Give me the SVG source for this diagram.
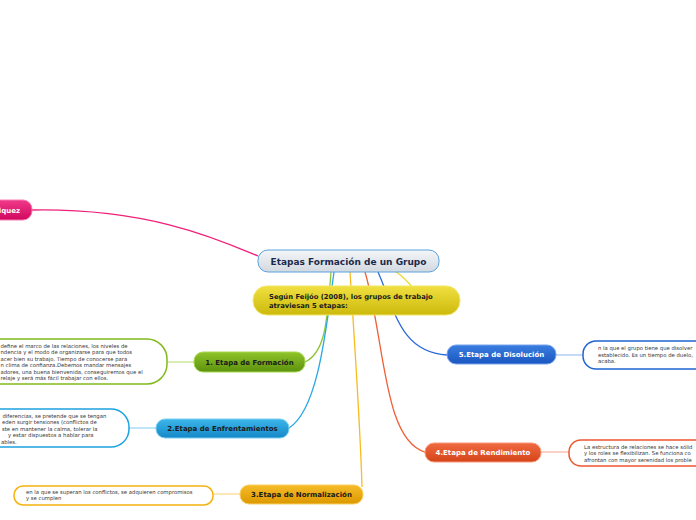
<svg xmlns="http://www.w3.org/2000/svg" width="696" height="520" viewBox="0 0 696 520">
<style>
.lbl{font-family:"DejaVu Sans","Verdana",sans-serif;font-weight:bold;}
.note{font-family:"DejaVu Sans","Verdana",sans-serif;font-size:5.3px;fill:#333;}
.conn{fill:none;stroke-width:1.3;}
.nb{fill:#fff;stroke-width:1.5;}
</style>
<defs>
<linearGradient id="gC" x1="0" y1="0" x2="0" y2="1"><stop offset="0" stop-color="#f4f6f8"/><stop offset="1" stop-color="#d2d9e0"/></linearGradient>
<linearGradient id="gY" x1="0" y1="0" x2="0" y2="1"><stop offset="0" stop-color="#f0e040"/><stop offset="1" stop-color="#cdb90c"/></linearGradient>
<linearGradient id="gP" x1="0" y1="0" x2="0" y2="1"><stop offset="0" stop-color="#f03a8a"/><stop offset="1" stop-color="#d0085e"/></linearGradient>
<linearGradient id="gG" x1="0" y1="0" x2="0" y2="1"><stop offset="0" stop-color="#8fc42a"/><stop offset="1" stop-color="#5c920e"/></linearGradient>
<linearGradient id="gB2" x1="0" y1="0" x2="0" y2="1"><stop offset="0" stop-color="#3cb6ea"/><stop offset="1" stop-color="#1588c8"/></linearGradient>
<linearGradient id="gO" x1="0" y1="0" x2="0" y2="1"><stop offset="0" stop-color="#f6bc2a"/><stop offset="1" stop-color="#dc9800"/></linearGradient>
<linearGradient id="gR" x1="0" y1="0" x2="0" y2="1"><stop offset="0" stop-color="#f06a42"/><stop offset="1" stop-color="#d44418"/></linearGradient>
<linearGradient id="gB5" x1="0" y1="0" x2="0" y2="1"><stop offset="0" stop-color="#3a7ee0"/><stop offset="1" stop-color="#1a56c0"/></linearGradient>
</defs>
<g id="connectors">
<path class="conn" d="M32,210 C150,208 220,240 258,256" stroke="#f0207a"/>
<path class="conn" d="M395,271 Q405,278 412,287" stroke="#e8d82a"/>
<path class="conn" d="M331,272 C327,320 326,352 305,362" stroke="#8cc43a"/>
<path class="conn" d="M334,272 C326,330 318,410 289,428" stroke="#28a8e6"/>
<path class="conn" d="M350,272 C355,350 360,420 362,487" stroke="#f8bc20"/>
<path class="conn" d="M365,272 C385,340 383,440 425,452" stroke="#f06038"/>
<path class="conn" d="M378,272 C395,310 400,352 447,355" stroke="#2a6ad8"/>
<path class="conn" d="M167,362 L194,362" stroke="#c6e48c" stroke-width="2"/>
<path class="conn" d="M129,428 L156,428" stroke="#9cd8f4" stroke-width="2"/>
<path class="conn" d="M213,494 L240,494" stroke="#fbdc90" stroke-width="2"/>
<path class="conn" d="M541,452 L569,452" stroke="#f8b8a4" stroke-width="2"/>
<path class="conn" d="M556,355 L583,355" stroke="#a8c4f0" stroke-width="2"/>
</g>
<g id="central">
<rect x="258" y="250" width="181" height="22" rx="10" fill="url(#gC)" stroke="#5aa2dc" stroke-width="1"/>
<text class="lbl" x="348.5" y="264.5" font-size="9" fill="#1c2a4a" text-anchor="middle">Etapas Formación de un Grupo</text>
</g>
<g id="intro">
<rect x="253" y="286" width="207" height="29" rx="14" fill="url(#gY)" stroke="#f2e666" stroke-width="1"/>
<text class="lbl" font-size="6.8" fill="#1a1a1a"><tspan x="269" y="299">Según Feijóo (2008), los grupos de trabajo</tspan><tspan x="269" y="308">atraviesan 5 etapas:</tspan></text>
</g>
<g id="pink">
<rect x="-40" y="200" width="72" height="20" rx="9" fill="url(#gP)" stroke="#f67ab0" stroke-width="1"/>
<text class="lbl" x="20" y="213" font-size="7" fill="#fff" text-anchor="end">iquez</text>
</g>
<g id="etapa1">
<rect x="194" y="352" width="111" height="20" rx="9" fill="url(#gG)" stroke="#a8d850" stroke-width="1"/>
<text class="lbl" x="249.5" y="364.5" font-size="7" fill="#1a1a1a" text-anchor="middle">1. Etapa de Formación</text>
</g>
<g id="nota1">
<rect class="nb" x="-30" y="339" width="197" height="45" rx="20" stroke="#82b91e"/>
<text class="note"><tspan x="0.5" y="347.5">define el marco de las relaciones, los niveles de</tspan><tspan x="0.5" y="354">ndencia y el modo de organizarse para que todos</tspan><tspan x="0.5" y="360.5">acer bien su trabajo. Tiempo de conocerse para</tspan><tspan x="0.5" y="367">n clima de confianza.Debemos mandar mensajes</tspan><tspan x="0.5" y="373.5">adores, una buena bienvenida, conseguiremos que el</tspan><tspan x="0.5" y="380">relaje y será más fácil trabajar con ellos.</tspan></text>
</g>
<g id="etapa2">
<rect x="156" y="419" width="133" height="19" rx="9" fill="url(#gB2)" stroke="#7ad0f2" stroke-width="1"/>
<text class="lbl" x="222.5" y="431" font-size="7" fill="#1a1a1a" text-anchor="middle">2.Etapa de Enfrentamientos</text>
</g>
<g id="nota2">
<rect class="nb" x="-40" y="409" width="169" height="38" rx="18" stroke="#1ea3e0"/>
<text class="note"><tspan x="2.5" y="417.5">diferencias, se pretende que se tengan</tspan><tspan x="2" y="424">eden surgir tensiones (conflictos de</tspan><tspan x="2" y="430.5">ste en mantener la calma, tolerar la</tspan><tspan x="8" y="437">y estar dispuestos a hablar para</tspan><tspan x="1" y="443.5">ables.</tspan></text>
</g>
<g id="etapa3">
<rect x="240" y="485" width="123" height="19" rx="9" fill="url(#gO)" stroke="#f8d060" stroke-width="1"/>
<text class="lbl" x="301.5" y="497" font-size="7" fill="#1a1a1a" text-anchor="middle">3.Etapa de Normalización</text>
</g>
<g id="nota3">
<rect class="nb" x="14" y="486" width="199" height="19" rx="9" stroke="#f5b10c"/>
<text class="note"><tspan x="26" y="494">en la que se superan los conflictos, se adquieren compromisos</tspan><tspan x="26" y="500">y se cumplen</tspan></text>
</g>
<g id="etapa4">
<rect x="425" y="443" width="116" height="19" rx="9" fill="url(#gR)" stroke="#f89a7c" stroke-width="1"/>
<text class="lbl" x="483" y="455" font-size="7" fill="#fff" text-anchor="middle">4.Etapa de Rendimiento</text>
</g>
<g id="nota4">
<rect class="nb" x="569" y="440" width="160" height="26" rx="12" stroke="#ee5630"/>
<text class="note"><tspan x="584" y="448.5">La estructura de relaciones se hace sólid</tspan><tspan x="584" y="455">y los roles se flexibilizan. Se funciona co</tspan><tspan x="584" y="461.5">afrontan con mayor serenidad los proble</tspan></text>
</g>
<g id="etapa5">
<rect x="447" y="345" width="109" height="19" rx="9" fill="url(#gB5)" stroke="#78a4ec" stroke-width="1"/>
<text class="lbl" x="501.5" y="357" font-size="7" fill="#fff" text-anchor="middle">5.Etapa de Disolución</text>
</g>
<g id="nota5">
<rect class="nb" x="583" y="341" width="150" height="28" rx="13" stroke="#1e64d2"/>
<text class="note"><tspan x="598" y="350">n la que el grupo tiene que disolver</tspan><tspan x="598" y="356.5">establecido. Es un tiempo de duelo,</tspan><tspan x="598" y="363">acaba.</tspan></text>
</g>
</svg>
